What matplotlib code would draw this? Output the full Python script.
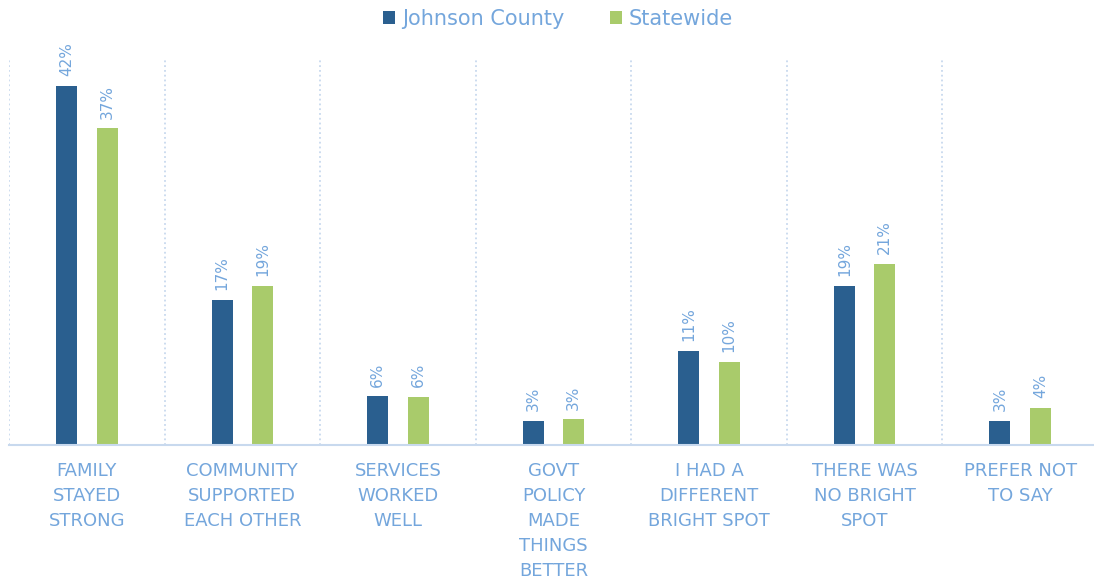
import matplotlib.pyplot as plt
import numpy as np

# Data
categories = ['FAMILY\nSTAYED\nSTRONG', 'COMMUNITY\nSUPPORTED\nEACH OTHER', 'SERVICES\nWORKED\nWELL',
              'GOVT\nPOLICY\nMADE\nTHINGS\nBETTER', 'I HAD A\nDIFFERENT\nBRIGHT SPOT',
              'THERE WAS\nNO BRIGHT\nSPOT', 'PREFER NOT\nTO SAY']
johnson = [42, 17, 5.7, 2.8, 11, 18.6, 2.8]
statewide = [37, 18.6, 5.6, 3.0, 9.7, 21.2, 4.3]

blue = '#2A5F8F'
green = '#A9CB6B'
text_col = '#74A6DC'
grid_col = '#C8D9EE'

fig = plt.figure(figsize=(10.94, 5.81), dpi=100)
ax = fig.add_axes([9 / 1094, 1 - 445 / 581, 1089 / 1094, 385 / 581])

x = np.arange(len(categories))
w = 0.135
off = 0.13
b1 = ax.bar(x - off, johnson, w, color=blue, label='Johnson County')
b2 = ax.bar(x + off, statewide, w, color=green, label='Statewide')

for bars, vals in ((b1, johnson), (b2, statewide)):
    for bar, v in zip(bars, vals):
        ax.annotate(f'{v:.0f}%', (bar.get_x() + bar.get_width() / 2, bar.get_height()),
                    xytext=(0, 7), textcoords='offset points', rotation=90,
                    ha='center', va='bottom', color=text_col, fontsize=11)

ax.set_xlim(-0.5, 6.5)
ax.set_ylim(0, 45)
ax.set_xticks(x)
ax.set_xticklabels(categories, color=text_col, fontsize=13, linespacing=1.5)
ax.tick_params(axis='x', length=0, pad=12)
ax.set_yticks([])

ax.set_xticks(np.arange(-0.5, 7, 1), minor=True)
ax.tick_params(axis='x', which='minor', length=0)
ax.grid(True, which='minor', axis='x', color=grid_col, linestyle=':', linewidth=1.3)
ax.set_axisbelow(True)

for s in ['top', 'right', 'left']:
    ax.spines[s].set_visible(False)
ax.spines['bottom'].set_color(grid_col)
ax.spines['bottom'].set_linewidth(1.5)

leg = fig.legend(loc='center', bbox_to_anchor=(0.51, 1 - 19 / 581), ncol=2, frameon=False,
                 fontsize=15, handlelength=0.6, handleheight=0.6, handletextpad=0.3,
                 columnspacing=2.2, labelcolor=text_col)

fig.savefig('out.png', dpi=100)
